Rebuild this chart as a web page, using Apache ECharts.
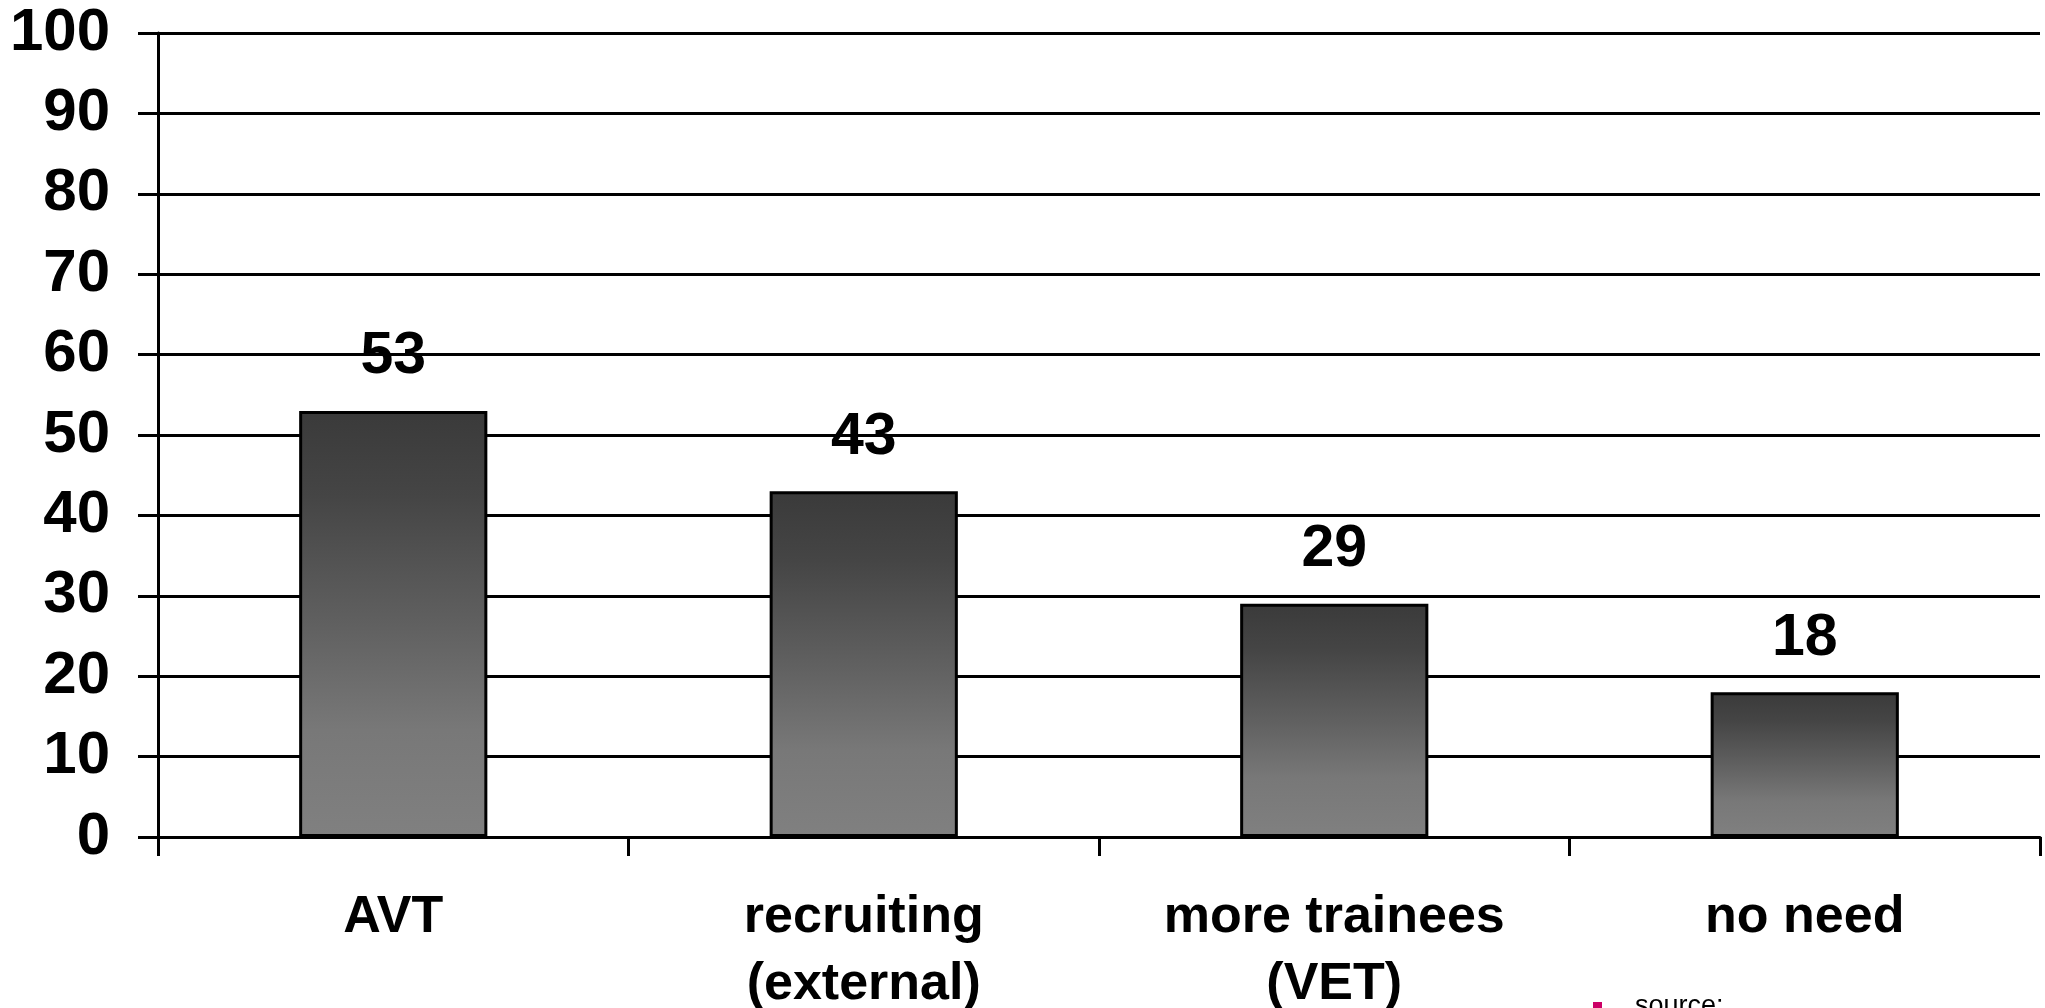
<!DOCTYPE html>
<html>
<head>
<meta charset="utf-8">
<script src="https://cdn.jsdelivr.net/npm/echarts@6/dist/echarts.min.js"></script>
<style>
  html, body { margin: 0; padding: 0; background: #fff; overflow: hidden; }
  #chart { width: 2045px; height: 1008px; }
</style>
</head>
<body>
<div id="chart"></div>
<script>
// Categories and shares (%)
const categories = ['AVT', 'recruiting\n(external)', 'more trainees\n(VET)', 'no need'];
const values = [53, 43, 29, 18];
const yTicks = { min: 0, max: 100, interval: 10 };
const sourceText = 'source:';

const FONT = '"Liberation Sans", Arial, sans-serif';

const chart = echarts.init(document.getElementById('chart'), null, { renderer: 'canvas' });

const barFill = new echarts.graphic.LinearGradient(0, 0, 0, 1, [
  { offset: 0, color: '#3a3a3a' },
  { offset: 0.2, color: '#454545' },
  { offset: 0.5, color: '#606060' },
  { offset: 0.75, color: '#787878' },
  { offset: 1, color: '#808080' }
]);

chart.setOption({
  animation: false,
  backgroundColor: '#ffffff',
  grid: {
    left: 158, right: 5, top: 33, bottom: 171,
    containLabel: false,
    outerBoundsMode: 'none'
  },
  xAxis: {
    type: 'category',
    data: categories,
    boundaryGap: true,
    axisLine: { show: true, lineStyle: { color: '#000', width: 3 } },
    axisTick: { show: true, alignWithLabel: false, length: 19, lineStyle: { color: '#000', width: 3 } },
    axisLabel: {
      margin: 47,
      interval: 0,
      color: '#000',
      fontFamily: FONT,
      fontWeight: 'bold',
      fontSize: 52,
      lineHeight: 67
    },
    splitLine: { show: false }
  },
  yAxis: {
    type: 'value',
    min: yTicks.min,
    max: yTicks.max,
    interval: yTicks.interval,
    axisLine: { show: true, lineStyle: { color: '#000', width: 3 } },
    axisTick: { show: true, length: 20, lineStyle: { color: '#000', width: 3 } },
    axisLabel: {
      margin: 48,
      color: '#000',
      fontFamily: FONT,
      fontWeight: 'bold',
      fontSize: 60
    },
    splitLine: { show: true, lineStyle: { color: '#000', width: 3 } }
  },
  series: [{
    type: 'bar',
    data: values,
    barWidth: '40%',
    itemStyle: { color: barFill, borderColor: '#000', borderWidth: 3 },
    label: {
      show: true,
      position: 'top',
      distance: 24,
      color: '#000',
      fontFamily: FONT,
      fontWeight: 'bold',
      fontSize: 59,
      lineHeight: 60
    }
  }],
  graphic: [
    {
      type: 'rect',
      left: 1593,
      top: 1002,
      shape: { width: 9, height: 9 },
      style: { fill: '#cc0066' }
    },
    {
      type: 'text',
      left: 1635,
      top: 993,
      style: { text: sourceText, fill: '#000', font: '27px ' + FONT }
    }
  ]
});
</script>
</body>
</html>
